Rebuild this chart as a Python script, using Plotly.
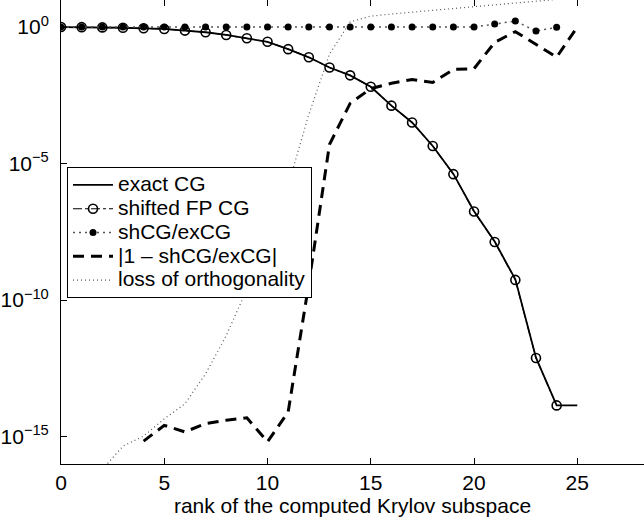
import plotly.graph_objects as go

# ---- data ----
x_exact = list(range(0, 26))
exact_cg = [1.0, 0.99, 0.97, 0.94, 0.90, 0.85, 0.74, 0.645, 0.513, 0.389, 0.288,
            0.155, 7.8e-2, 3.3e-2, 1.7e-2, 6.5e-3, 1.32e-3, 3.2e-4, 4.4e-5, 4.2e-6,
            1.8e-7, 1.4e-8, 5.8e-10, 7.8e-13, 1.4e-14, 1.4e-14]

x_fp = list(range(0, 25))
shifted_fp_cg = [1.0, 0.99, 0.97, 0.94, 0.90, 0.85, 0.74, 0.645, 0.513, 0.389, 0.288,
                 0.155, 7.8e-2, 3.3e-2, 1.7e-2, 6.5e-3, 1.32e-3, 3.2e-4, 4.4e-5, 4.1e-6,
                 1.75e-7, 1.35e-8, 5.5e-10, 7.6e-13, 1.4e-14]

x_ratio = list(range(0, 25))
ratio = [1.0, 1.0, 1.0, 1.0, 1.0, 1.0, 1.0, 1.0, 1.0, 1.0, 1.0,
         1.0, 1.0, 1.0, 1.0, 1.0, 1.0, 1.0, 1.0, 1.0, 1.0,
         1.29, 1.66, 0.71, 0.98]

x_diff = list(range(4, 26))
abs_diff = [6.9e-16, 2.6e-15, 1.5e-15, 3.0e-15, 4.0e-15, 4.9e-15, 6.5e-16, 8.1e-15,
            4.0e-10, 5.0e-5, 1.6e-3, 5.6e-3, 8.7e-3, 1.2e-2, 9.3e-3, 2.8e-2, 3.0e-2,
            2.75e-1, 6.8e-1, 2.3e-1, 7.9e-2, 1.0]

x_orth = list(range(2, 26))
loss_orth = [6.3e-17, 4.5e-16, 1.05e-15, 4.5e-15, 1.6e-14, 2.0e-13, 5.0e-12, 2.5e-10,
             2.0e-8, 1.6e-6, 6.3e-4, 1.0e-1, 1.55, 2.5, 3.0, 3.5, 4.2, 5.0, 5.9,
             6.9, 7.9, 9.1, 10.5, 12.0]

series_names = ["exact CG", "shifted FP CG", "shCG/exCG",
                "|1 \u2013 shCG/exCG|", "loss of orthogonality"]

x_ticks = [0, 5, 10, 15, 20, 25]
y_ticks = [1e0, 1e-5, 1e-10, 1e-15]
y_ticktext = ["10<sup>0</sup>", "10<sup>\u22125</sup>", "10<sup>\u221210</sup>", "10<sup>\u221215</sup>"]

FONT = "Liberation Sans, Arial, Helvetica, sans-serif"


def lg(name):
    return '<span style="font-size:21px">' + name + '</span>'


fig = go.Figure()
fig.add_trace(go.Scatter(x=x_exact, y=exact_cg, name=lg(series_names[0]), mode="lines",
                         line=dict(color="black", width=1.8)))
fig.add_trace(go.Scatter(x=x_fp, y=shifted_fp_cg, name=lg(series_names[1]), mode="lines+markers",
                         line=dict(color="black", width=1.2, dash="dashdot"),
                         marker=dict(symbol="circle-open", size=9, color="black",
                                     line=dict(width=1.6, color="black"))))
fig.add_trace(go.Scatter(x=x_ratio, y=ratio, name=lg(series_names[2]), mode="lines+markers",
                         line=dict(color="#555555", width=1.5, dash="2px,4px"),
                         marker=dict(symbol="circle", size=7, color="black")))
fig.add_trace(go.Scatter(x=x_diff, y=abs_diff, name=lg(series_names[3]), mode="lines",
                         line=dict(color="black", width=3, dash="11px,7px")))
fig.add_trace(go.Scatter(x=x_orth, y=loss_orth, name=lg(series_names[4]), mode="lines",
                         line=dict(color="#555555", width=1.2, dash="1px,3px")))

fig.update_layout(
    width=644, height=519,
    margin=dict(l=61, r=0, t=0, b=55),
    paper_bgcolor="white", plot_bgcolor="white",
    font=dict(family=FONT, size=21, color="black"),
    showlegend=True,
    legend=dict(x=0.0103, y=0.64, xanchor="left", yanchor="top",
                bgcolor="white", bordercolor="black", borderwidth=1,
                font=dict(family=FONT, size=16, color="black"),
                itemwidth=40, tracegroupgap=0),
    xaxis=dict(range=[0, 28.23], tickvals=x_ticks, ticks="inside", ticklen=6,
               tickcolor="black", showline=True, linecolor="black", linewidth=1,
               mirror="ticks", showgrid=False, zeroline=False,
               tickfont=dict(size=21),
               title=dict(text="rank of the computed Krylov subspace",
                          font=dict(size=21), standoff=2)),
    yaxis=dict(type="log", range=[-16, 0.99], tickvals=y_ticks, ticktext=y_ticktext,
               ticks="inside", ticklen=6, tickcolor="black", showline=True,
               linecolor="black", linewidth=1, mirror=False, showgrid=False,
               zeroline=False, tickfont=dict(size=21), ticklabelstandoff=7),
)

fig.write_html("out.html")
